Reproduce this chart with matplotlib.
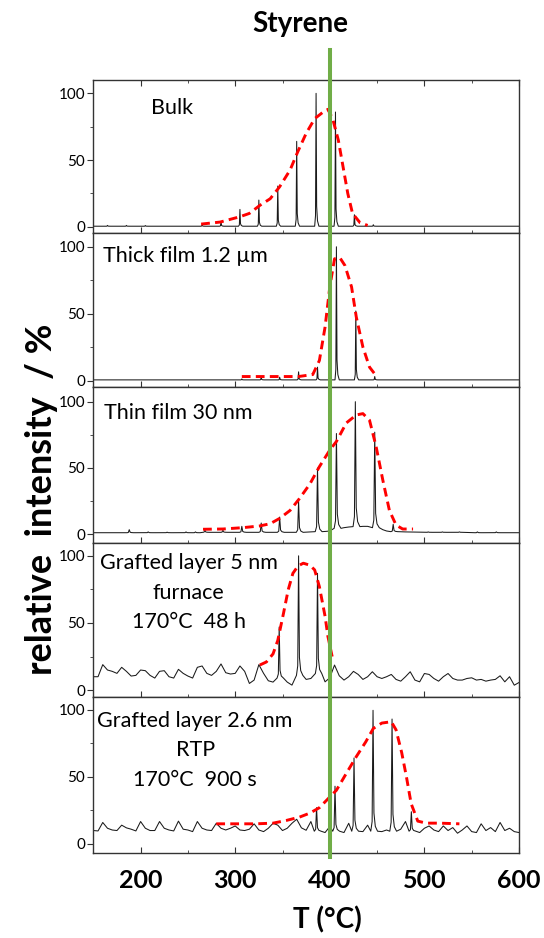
"""
Styrene desorption traces, five stacked panels sharing the T axis.
"""

import numpy as np
import matplotlib
matplotlib.use("Agg")
import matplotlib.pyplot as plt
from matplotlib.lines import Line2D
from matplotlib.transforms import blended_transform_factory
from matplotlib.ticker import MultipleLocator

plt.rcParams["font.family"] = ["Lato", "DejaVu Sans"]

# ---- data ----
panel_labels = [
    "Bulk",
    "Thick film 1.2 µm",
    "Thin film 30 nm",
    "Grafted layer 5 nm\nfurnace\n170°C  48 h",
    "Grafted layer 2.6 nm\nRTP\n170°C  900 s",
]

# bulk
bulk_base_t = [150, 600]
bulk_base_i = [0.4, 0.4]
bulk_peak_t = [165, 185, 205, 265, 285, 305, 325, 345, 365, 385.5, 406, 426, 446]
bulk_peak_i = [1.0, 1.0, 0.9, 1.5, 4, 13, 20, 30.5, 64, 100, 86, 9, 1.5]
bulk_env_t = [264, 284, 305, 315, 326, 337, 347, 358, 366, 375, 384, 393, 398,
              403, 409, 414, 419, 424, 432, 440]
bulk_env_i = [2, 3.5, 7.5, 10, 16, 21, 30, 42.5, 56, 70, 81, 86, 88,
              81, 65, 45, 25, 10, 3, 1]

# thick film
thick_base_t = [150, 600]
thick_base_i = [0.5, 0.5]
thick_peak_t = [307, 327.5, 347, 367, 387, 407, 427.5, 447.5]
thick_peak_i = [1.2, 2.5, 2.5, 6.5, 10, 100, 52, 3]
thick_env_t = [307, 328, 347, 367, 382, 389, 395, 400, 405, 410.5, 416, 423,
               428, 435, 442, 448]
thick_env_i = [3, 3, 3, 3, 4.5, 15, 40, 70, 91, 92, 86, 70, 47.5, 25, 10, 4.5]

# thin film
thin_base_t = [150, 370, 380, 390, 396, 400, 410, 415, 420, 430, 435, 440,
               452, 456, 460, 470, 480, 500, 600]
thin_base_i = [1.2, 1.5, 1.8, 2.0, 2.2, 2.5, 4.5, 5.0, 5.5, 5.8, 6.0, 6.0,
               5.0, 3.5, 2.5, 2.0, 1.8, 1.5, 1.2]
thin_peak_t = [188, 208, 228, 248, 258, 268, 287, 307, 327.5, 347, 367, 387,
               407, 427, 447.5, 467, 504, 519, 537, 556, 576]
thin_peak_i = [3.5, 1.8, 1.6, 1.8, 1.8, 3, 3, 6, 8.5, 13, 25, 50,
               76, 100, 77, 7.5, 1.8, 1.8, 1.8, 1.8, 1.8]
thin_env_t = [266, 287, 308, 326, 337, 347, 358, 368, 379, 389, 400, 407,
              417.5, 428, 435, 442, 449, 456, 463, 470, 477, 488]
thin_env_i = [3.8, 4, 5, 6.3, 8, 12, 18, 27, 38, 51, 63.5, 70,
              84, 90, 91, 86, 66, 41, 18, 7, 4, 4]

# grafted layer 5 nm, noisy baseline read every 5 °C from 150 to 600
graft5_base_t = list(range(150, 605, 5))
graft5_base_i = [10, 10, 19, 15, 14, 12.5, 17, 14, 10.5, 11,
                 15, 14.5, 11, 9, 14, 14.5, 10, 9, 15.5, 12.5,
                 10.5, 9, 17, 18, 12.5, 11, 14, 19.5, 13, 12,
                 12.5, 18, 14, 5, 7.5, 19, 12.5, 7, 6, 9,
                 9, 6, 3.75, 11, 12.5, 8, 8.7, 12.4, 8.7, 6.2,
                 9.2, 18.7, 10.7, 7.5, 10, 14, 11.7, 8, 10, 13.7,
                 10, 8.7, 10, 11.7, 8, 6.7, 10, 13.7, 7.5, 6.2,
                 12.4, 11.7, 8.7, 6.7, 10, 12.4, 8.7, 7.5, 7.5, 8.7,
                 9.2, 7.5, 8, 6.7, 7.5, 8, 10.7, 6.2, 10, 3.7, 5.7]
graft5_peak_t = [346.5, 367, 387]
graft5_peak_i = [47, 100, 87]
graft5_env_t = [326, 333, 340, 345, 351, 356, 361, 366.5, 372, 379, 384, 389,
                395, 398, 402.5]
graft5_env_i = [18.7, 21, 27, 37, 57, 74.6, 87, 92.5, 94.5, 93, 89.5, 77,
                55, 40, 25]

# grafted layer 2.6 nm, noisy baseline read every 5 °C from 150 to 600
graft26_base_t = list(range(150, 605, 5))
graft26_base_i = [10, 9.7, 16, 11.7, 10.4, 10, 14, 12, 11, 9.7,
                  16.7, 11.7, 10, 10, 16.7, 11.7, 10.4, 9.7, 17, 11,
                  10.4, 9.2, 16.7, 11.7, 10.4, 10, 15.4, 11.7, 10.4, 11.7,
                  13.4, 10.4, 10, 11, 15, 10.4, 9.2, 11.7, 15.4, 14,
                  10, 11.7, 15.4, 18.4, 12, 10.2, 16.7, 9.5, 9.2, 8.5,
                  13, 9.5, 9.2, 8.5, 15.4, 9.5, 9.2, 9.2, 14, 9.5,
                  10.4, 9.2, 10.4, 9.5, 10, 11, 16.7, 9.5, 10, 8.5,
                  11.7, 13.4, 10.4, 9.2, 13.4, 10, 12.2, 8, 10.4, 13.4,
                  9.2, 8.5, 15, 10, 12.2, 9.2, 16, 10, 11.7, 9.2, 8.5]
graft26_peak_t = [386, 405.5, 425.6, 445.7, 465.8, 486.2]
graft26_peak_i = [27, 43, 64, 99.5, 93, 24]
graft26_env_t = [280, 301, 322, 340, 354, 368, 379, 389, 400, 407, 417, 428,
                 438, 446, 455, 465, 470, 476, 481, 486, 493, 502, 516, 537]
graft26_env_i = [15, 15, 15, 15.5, 17.5, 20, 23, 27, 35, 40, 52, 65,
                 76, 86, 90, 91, 85, 68, 50, 30, 17, 15.5, 15.5, 15]

styrene_t = 400

panels = [
    (bulk_base_t, bulk_base_i, bulk_peak_t, bulk_peak_i, bulk_env_t, bulk_env_i),
    (thick_base_t, thick_base_i, thick_peak_t, thick_peak_i, thick_env_t, thick_env_i),
    (thin_base_t, thin_base_i, thin_peak_t, thin_peak_i, thin_env_t, thin_env_i),
    (graft5_base_t, graft5_base_i, graft5_peak_t, graft5_peak_i, graft5_env_t, graft5_env_i),
    (graft26_base_t, graft26_base_i, graft26_peak_t, graft26_peak_i, graft26_env_t, graft26_env_i),
]

# ---- layout / style ----
peak_dx = [-1.5, -0.6, 0.0, 0.6, 1.5, 3.0]      # spike outline around a peak
peak_fr = [0.0, 0.08, 1.0, 0.15, 0.04, 0.0]
peak_w = [1.0, 1.0, 1.6, 1.5, 1.6]
ylims = [(-5, 110), (-5, 110), (-6.6, 110.9), (-5, 109.5), (-6.5, 109.5)]
heights = [153, 153.4, 155.4, 153.4, 155.4]
label_pos = [(211, 89, "left"), (160, 93, "left"), (161, 91.7, "left"),
             (251, 72.5, "center"), (257.7, 69.6, "center")]


def trace(base_t, base_i, pk_t, pk_i, w):
    base_t = np.asarray(base_t, float)
    base_i = np.asarray(base_i, float)
    pts = [(t, v) for t, v in zip(base_t, base_i)
           if not any(p - 2 * w < t < p + 4 * w for p in pk_t)]
    for p, h in zip(pk_t, pk_i):
        foot = base_i[np.argmin(np.abs(base_t - p))]
        for dx, fr in zip(peak_dx, peak_fr):
            pts.append((p + dx * w, foot + fr * (h - foot)))
    pts.sort()
    return np.array(pts).T


fig, axes = plt.subplots(5, 1, figsize=(5.44, 9.38), dpi=100, sharex=True,
                         gridspec_kw={"height_ratios": heights, "hspace": 0})
fig.subplots_adjust(left=93.3 / 544, right=519 / 544,
                    bottom=1 - 852.7 / 938, top=1 - 80 / 938)

for k, ax in enumerate(axes):
    bt, bi, pt, pi, et, ei = panels[k]
    x, y = trace(bt, bi, pt, pi, peak_w[k])
    ax.plot(x, y, color="#1a1a1a", lw=0.75)
    ax.plot(et, ei, color="#ff0000", lw=2.1, dashes=(3.0, 1.8))

    ax.set_xlim(150, 600)
    ax.set_ylim(*ylims[k])
    ax.set_yticks([0, 50, 100])
    ax.yaxis.set_minor_locator(MultipleLocator(25))
    ax.xaxis.set_major_locator(MultipleLocator(100))
    ax.xaxis.set_minor_locator(MultipleLocator(50))
    ax.tick_params(axis="y", which="major", direction="out", length=4, width=0.8,
                   labelsize=11, pad=2, color="#333333")
    ax.tick_params(axis="y", which="minor", direction="out", length=2, width=0.6,
                   color="#333333")
    ax.tick_params(axis="x", which="major", direction="in", length=4.5, width=0.8,
                   color="#333333", top=(k == 0))
    ax.tick_params(axis="x", which="minor", direction="in", length=2.5, width=0.6,
                   color="#333333", top=(k == 0))
    for s in ax.spines.values():
        s.set_color("#333333")
        s.set_linewidth(1.0)

    tx, ty, ha = label_pos[k]
    ax.text(tx, ty, panel_labels[k], fontsize=15.5, ha=ha, va="center",
            multialignment="center", linespacing=1.6)

axes[-1].tick_params(axis="x", which="major", labelsize=18, pad=12)
for lab in axes[-1].get_xticklabels():
    lab.set_fontweight("bold")

# green marker line across all panels
tr = blended_transform_factory(axes[-1].transData, fig.transFigure)
fig.add_artist(Line2D([styrene_t, styrene_t], [1 - 857 / 938, 1 - 50 / 938],
                      transform=tr, color="#70ad47", lw=2.9, zorder=5))

fig.text(300 / 544, 1 - 24 / 938, "Styrene", ha="center", va="center",
         fontsize=20, fontweight="bold")
fig.text(42 / 544, 1 - 499 / 938, "relative  intensity  / %", rotation=90,
         ha="center", va="center", fontsize=26, fontweight="bold")
fig.text(327 / 544, 1 - 920 / 938, "T (°C)", ha="center", va="center",
         fontsize=20, fontweight="bold")

fig.savefig("out.png", dpi=100)
plt.close(fig)
